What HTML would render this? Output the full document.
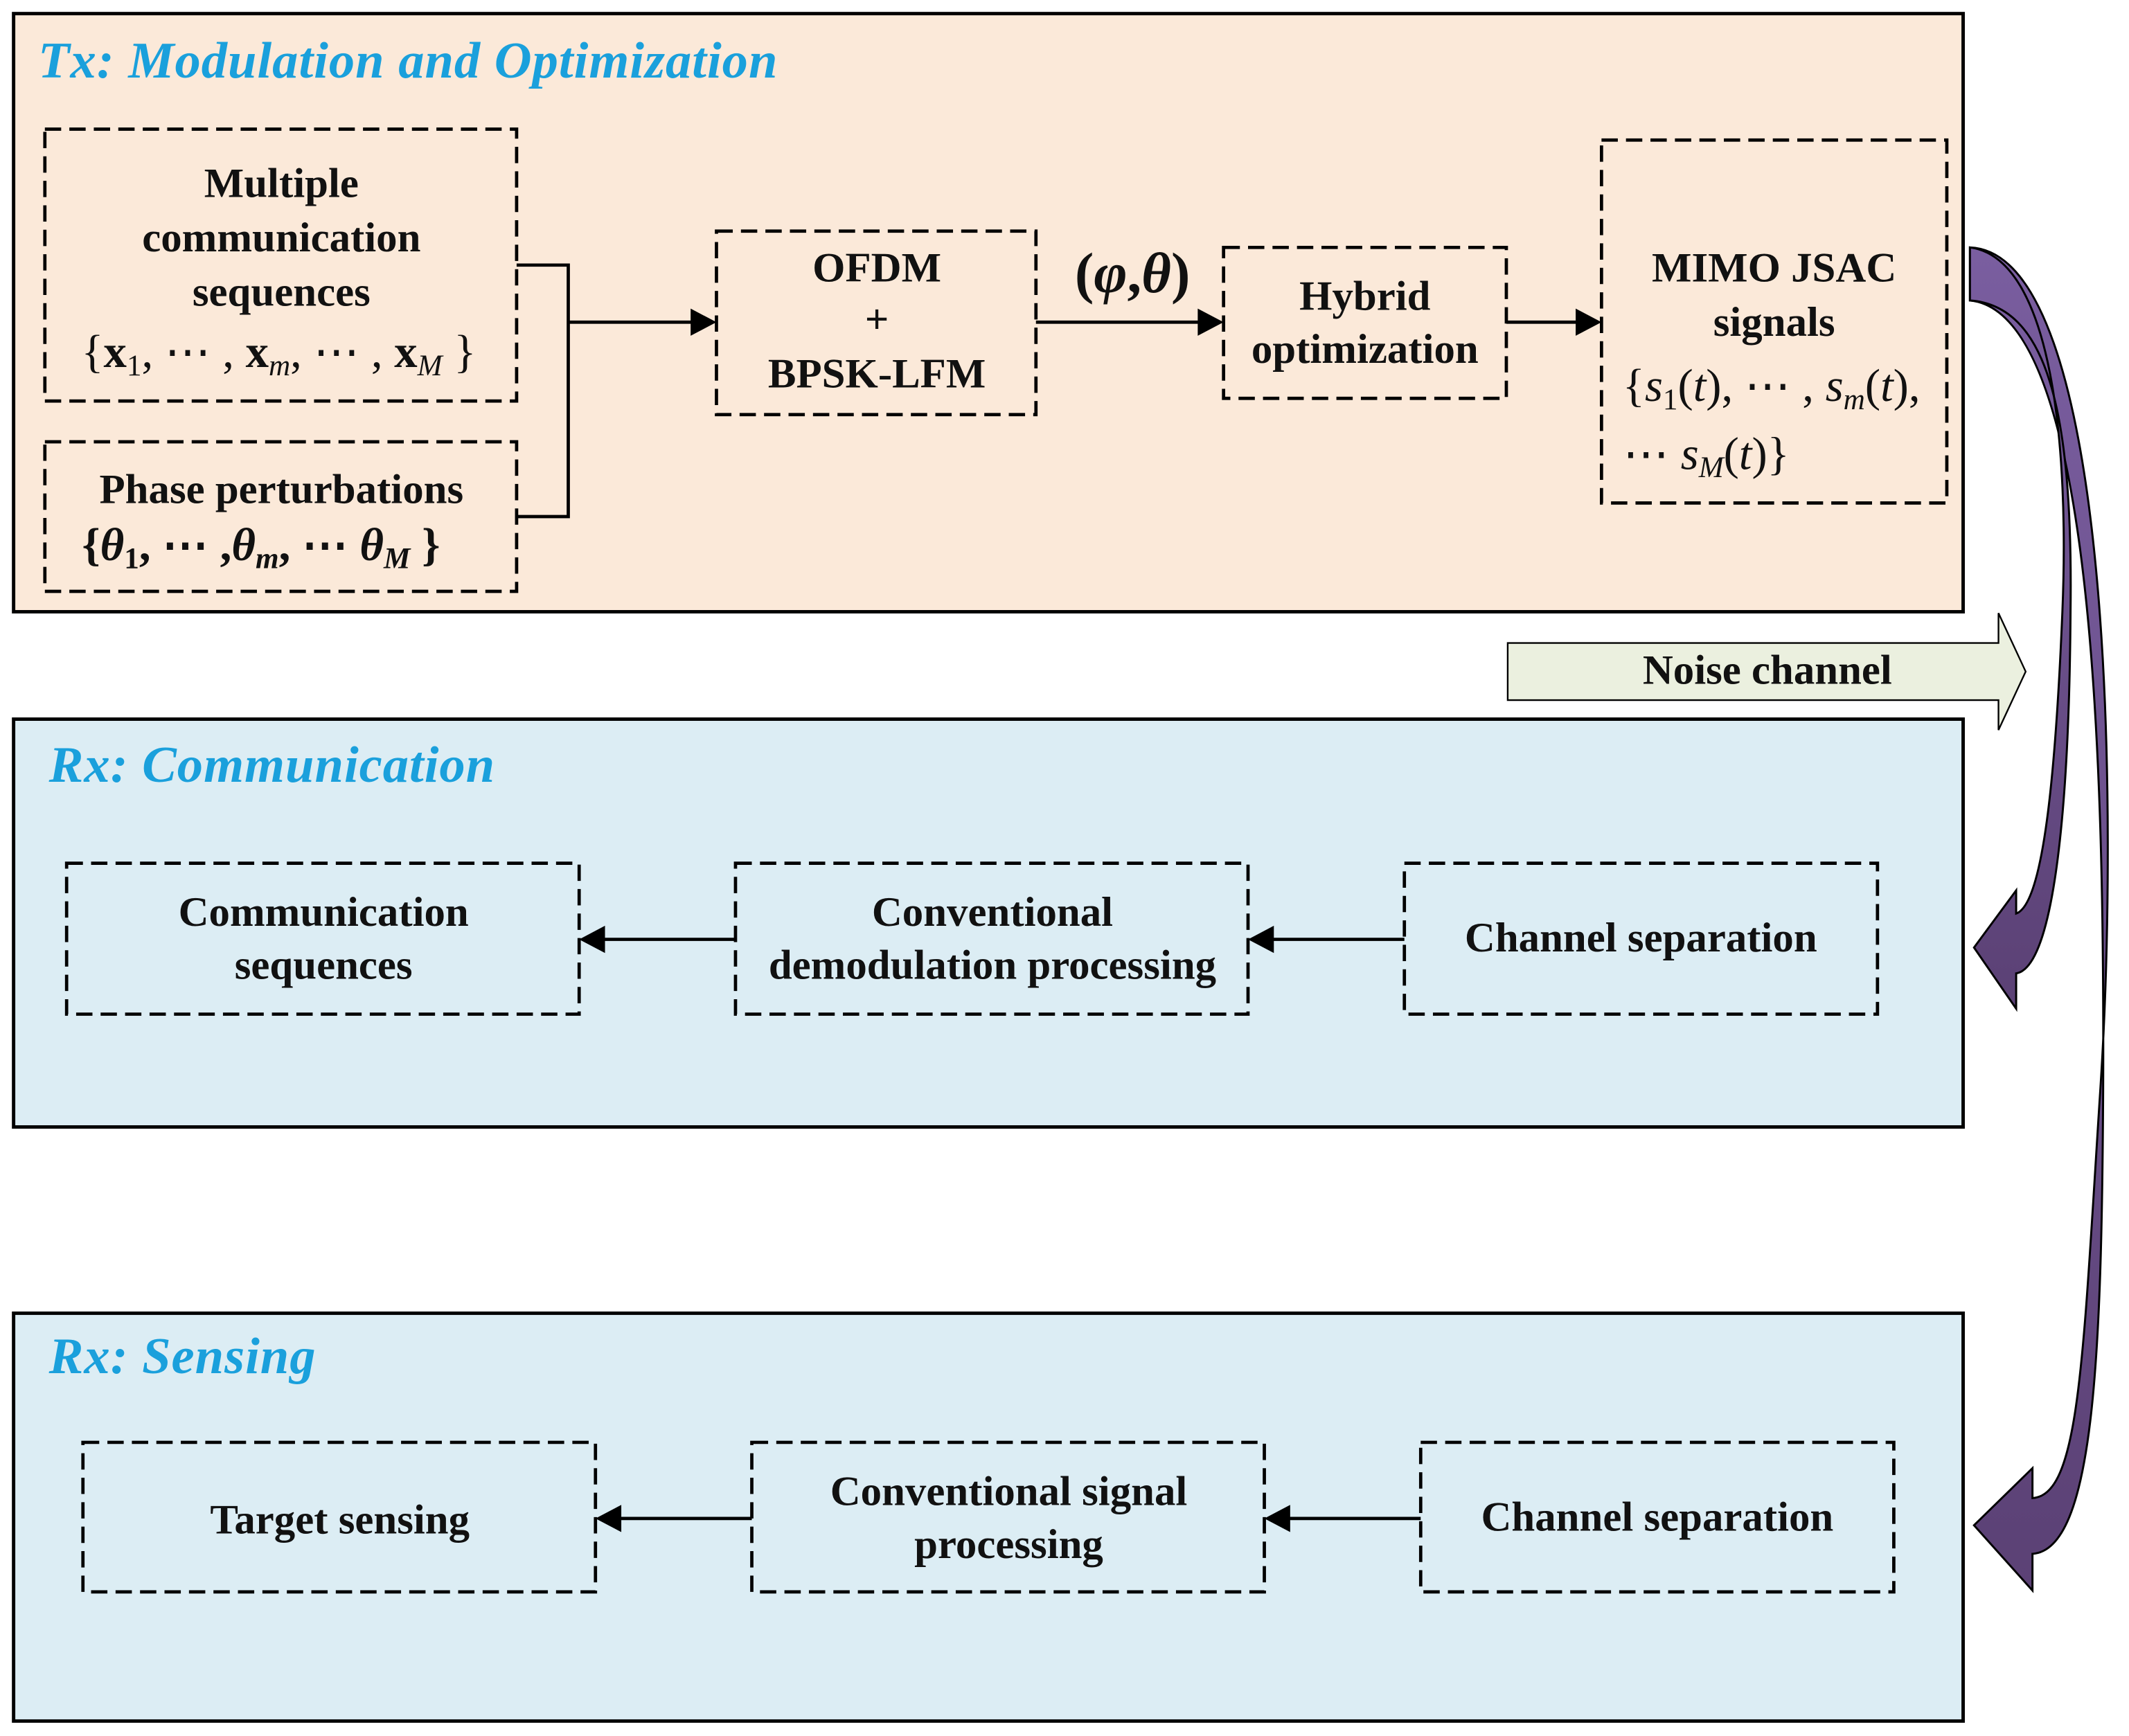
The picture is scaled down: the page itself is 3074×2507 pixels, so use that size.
<!DOCTYPE html>
<html><head><meta charset="utf-8"><style>
html,body{margin:0;padding:0;background:#fff}
svg{display:block}
text{font-family:"Liberation Serif",serif;font-weight:bold;font-size:31px;fill:#111}
.t{font-style:italic;fill:#1aa0dc;font-size:38px;letter-spacing:0.5px}
.m{font-weight:normal;font-style:italic;font-size:34px}
.n{font-style:normal}
.s{font-size:22px}
</style></head><body>
<svg width="3074" height="2507" viewBox="0 0 1566 1277" preserveAspectRatio="none" xmlns="http://www.w3.org/2000/svg">
<defs>
<linearGradient id="pg" x1="0" y1="0" x2="0" y2="1"><stop offset="0" stop-color="#7a5ea0"/><stop offset="1" stop-color="#5b4175"/></linearGradient>
</defs>
<rect x="10" y="10" width="1434" height="440" fill="#fbe9d9" stroke="#000" stroke-width="2.5"/>
<rect x="10" y="529" width="1434" height="300" fill="#dcedf4" stroke="#000" stroke-width="2.5"/>
<rect x="10" y="966" width="1434" height="300" fill="#dcedf4" stroke="#000" stroke-width="2.5"/>
<text class="t" x="28" y="57">Tx: Modulation and Optimization</text>
<text class="t" x="36" y="575">Rx: Communication</text>
<text class="t" x="36" y="1010">Rx: Sensing</text>
<g fill="none" stroke="#000" stroke-width="2.4" stroke-dasharray="12,6">
<rect x="33" y="95" width="347" height="200"/>
<rect x="33" y="325" width="347" height="110"/>
<rect x="527" y="170" width="235" height="135"/>
<rect x="900" y="182" width="208" height="111"/>
<rect x="1178" y="103" width="254" height="267"/>
<rect x="49" y="635" width="377" height="111"/>
<rect x="541" y="635" width="377" height="111"/>
<rect x="1033" y="635" width="348" height="111"/>
<rect x="61" y="1061" width="377" height="110"/>
<rect x="553" y="1061" width="377" height="110"/>
<rect x="1045" y="1061" width="348" height="110"/>
</g>
<g fill="none" stroke="#000" stroke-width="2.4">
<polyline points="380,195 418,195 418,380 380,380"/>
<line x1="418" y1="237" x2="510" y2="237"/>
<line x1="762" y1="237" x2="882" y2="237"/>
<line x1="1108" y1="237" x2="1160" y2="237"/>
<line x1="541" y1="691" x2="444" y2="691"/>
<line x1="1033" y1="691" x2="936" y2="691"/>
<line x1="553" y1="1117" x2="456" y2="1117"/>
<line x1="1045" y1="1117" x2="948" y2="1117"/>
</g>
<g fill="#000">
<path d="M527,237 L508,227 L508,247Z"/>
<path d="M900,237 L881,227 L881,247Z"/>
<path d="M1178,237 L1159,227 L1159,247Z"/>
<path d="M426,691 L445,681 L445,701Z"/>
<path d="M918,691 L937,681 L937,701Z"/>
<path d="M438,1117 L457,1107 L457,1127Z"/>
<path d="M930,1117 L949,1107 L949,1127Z"/>
</g>
<g text-anchor="middle">
<text x="207" y="145">Multiple</text>
<text x="207" y="185">communication</text>
<text x="207" y="225">sequences</text>
<text class="m" x="205" y="270"><tspan class="n">{</tspan><tspan font-weight="bold" font-style="normal">x</tspan><tspan class="s n" dy="6">1</tspan><tspan dy="-6" class="n">, ⋯ , </tspan><tspan font-weight="bold" font-style="normal">x</tspan><tspan class="s" dy="6">m</tspan><tspan dy="-6" class="n">, ⋯ , </tspan><tspan font-weight="bold" font-style="normal">x</tspan><tspan class="s" dy="6">M</tspan><tspan dy="-6" class="n"> }</tspan></text>
<text x="207" y="370">Phase perturbations</text>
<text class="m" x="192" y="412" style="font-weight:bold"><tspan class="n">{</tspan>θ<tspan class="s n" dy="6">1</tspan><tspan dy="-6" class="n">, ⋯ ,</tspan>θ<tspan class="s" dy="6">m</tspan><tspan dy="-6" class="n">, ⋯ </tspan>θ<tspan class="s" dy="6">M</tspan><tspan dy="-6" class="n"> }</tspan></text>
<text x="645" y="207">OFDM</text>
<text x="645" y="245" font-weight="normal">+</text>
<text x="645" y="285">BPSK-LFM</text>
<text x="833" y="215" style="font-style:italic;font-weight:bold;font-size:42px"><tspan class="n">(</tspan>φ<tspan class="n">,</tspan>θ<tspan class="n">)</tspan></text>
<text x="1004" y="228">Hybrid</text>
<text x="1004" y="267">optimization</text>
<text x="1305" y="207">MIMO JSAC</text>
<text x="1305" y="247">signals</text>
<text class="m" x="1303" y="295"><tspan class="n">{</tspan>s<tspan class="s n" dy="6">1</tspan><tspan dy="-6" class="n">(</tspan>t<tspan class="n">), ⋯ , </tspan>s<tspan class="s" dy="6">m</tspan><tspan dy="-6" class="n">(</tspan>t<tspan class="n">),</tspan></text>
<text class="m" x="1255" y="345"><tspan class="n">⋯ </tspan>s<tspan class="s" dy="6">M</tspan><tspan dy="-6" class="n">(</tspan>t<tspan class="n">)}</tspan></text>
<text x="238" y="681">Communication</text>
<text x="238" y="720">sequences</text>
<text x="730" y="681">Conventional</text>
<text x="730" y="720">demodulation processing</text>
<text x="1207" y="700">Channel separation</text>
<text x="250" y="1128">Target sensing</text>
<text x="742" y="1107">Conventional signal</text>
<text x="742" y="1146">processing</text>
<text x="1219" y="1126">Channel separation</text>
</g>
<path d="M1109,473 L1470,473 L1470,451 L1490,494 L1470,537 L1470,515 L1109,515Z" fill="#ebf0df" stroke="#000" stroke-width="1.2"/>
<text x="1300" y="503" text-anchor="middle" font-size="27">Noise channel</text>
<path d="M1449,182 C1555,186 1558,600 1545,800 C1532,1000 1530,1100 1495,1102 L1495,1080 L1452,1122 L1495,1170 L1495,1143 C1540,1140 1546,1000 1547,800 C1548,560 1540,230 1449,221Z" fill="url(#pg)" stroke="#000" stroke-width="1.5"/>
<path d="M1449,182 C1510,190 1522,330 1517,450 C1512,570 1503,665 1483,672 L1483,655 L1452,697 L1483,742 L1483,716 C1510,712 1522,600 1523,450 C1525,300 1505,225 1449,221Z" fill="url(#pg)" stroke="#000" stroke-width="1.5"/>
</svg>
</body></html>
